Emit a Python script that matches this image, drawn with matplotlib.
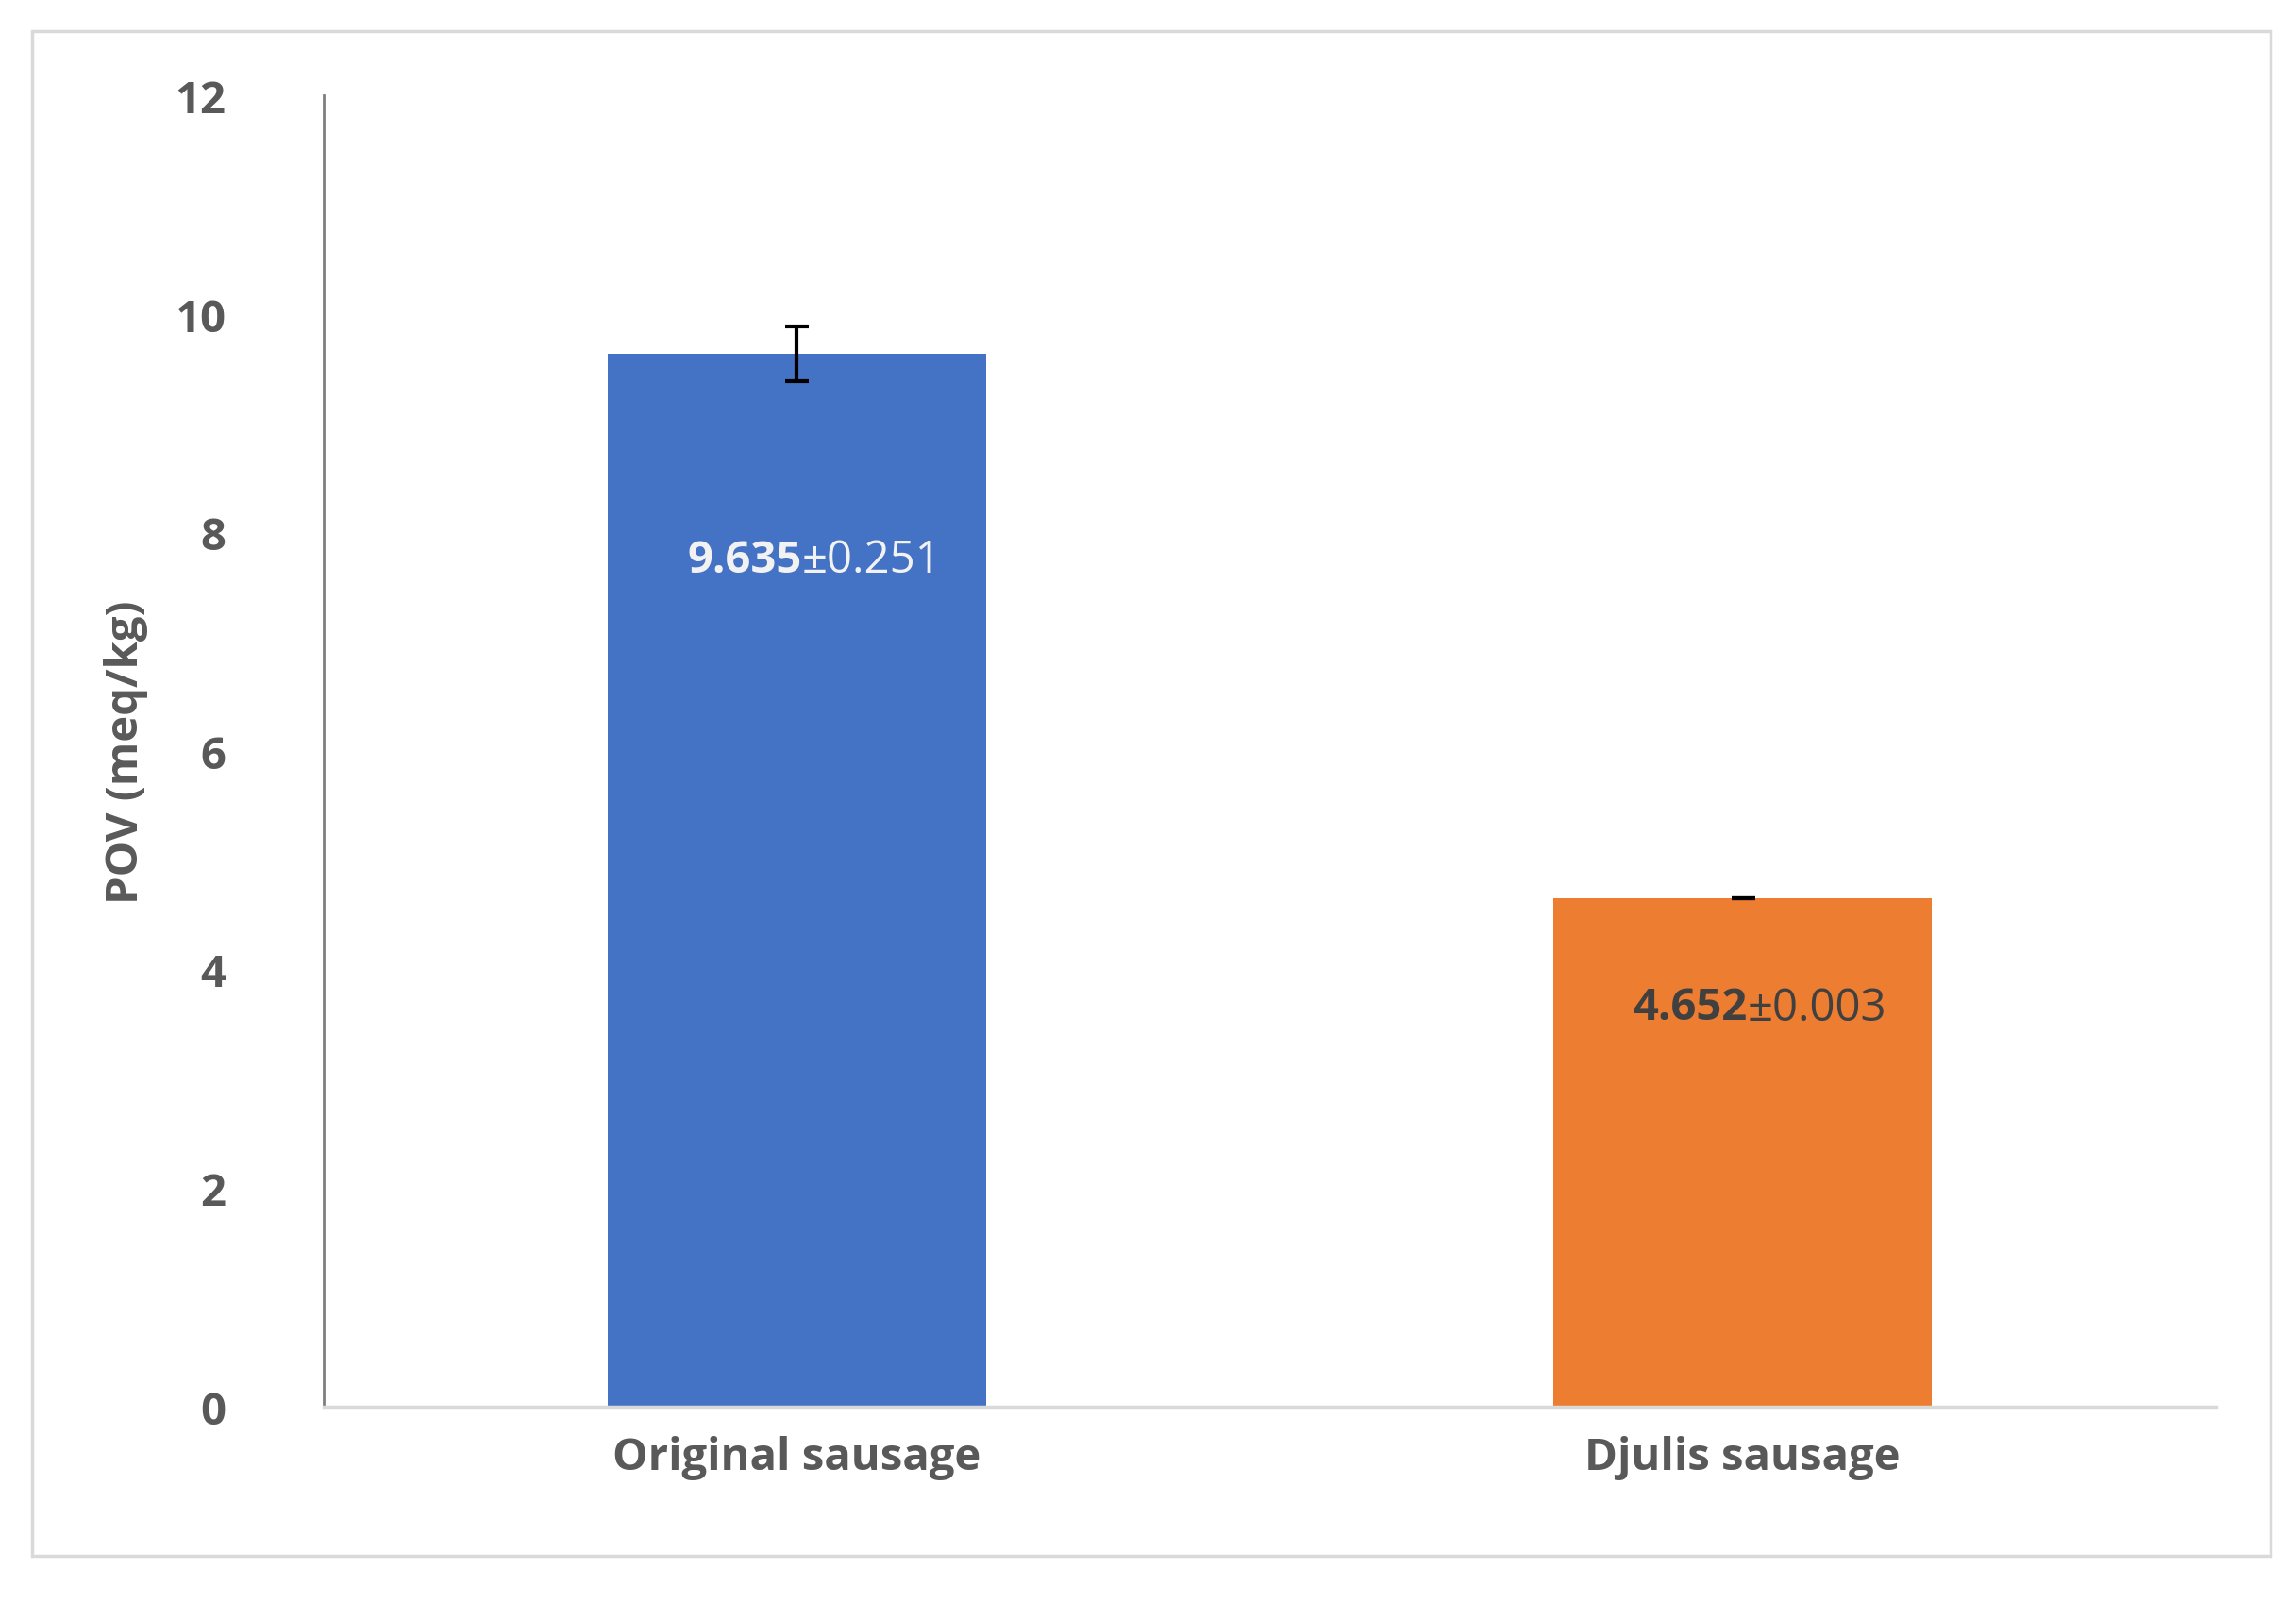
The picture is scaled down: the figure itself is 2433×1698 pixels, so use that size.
import matplotlib.pyplot as plt
from matplotlib.patches import Rectangle

categories = ["Original sausage", "Djulis sausage"]
means = [9.635, 4.652]
errors = [0.251, 0.003]
mean_labels = ["9.635", "4.652"]
err_labels = ["\u00b10.251", "\u00b10.003"]
label_y = [7.75, 3.65]
colors = ["#4472C4", "#ED7D31"]
label_colors = ["#F2F2F2", "#404040"]

plt.rcParams['font.family'] = ['Open Sans', 'DejaVu Sans']
grey = "#595959"

fig = plt.figure(figsize=(24.33, 16.99), dpi=100)
fig.patches.append(Rectangle((0.014, 0.029), 0.975, 0.951, transform=fig.transFigure,
                             fill=False, edgecolor="#D9D9D9", linewidth=2.5))
ax = fig.add_axes([0.141, 0.122, 0.824, 0.818])

x = range(len(categories))
ax.bar(x, means, width=0.4, color=colors, zorder=2)
ax.errorbar(x, means, yerr=errors, fmt='none', ecolor='black', elinewidth=3,
            capsize=9, capthick=3, zorder=3)

for i in x:
    ax.text(i + 0.005, label_y[i], mean_labels[i], ha='right', va='center',
            fontsize=34, fontweight='bold', color=label_colors[i])
    ax.text(i + 0.005, label_y[i], err_labels[i], ha='left', va='center',
            fontsize=34, color=label_colors[i])

ax.set_xlim(-0.5, 1.5)
ax.set_ylim(0, 12)
ax.set_yticks(range(0, 13, 2))
ax.set_xticks(list(x))
ax.set_xticklabels(categories)
ax.tick_params(axis='both', length=0, labelsize=34, labelcolor=grey, pad=22)
for lab in ax.get_xticklabels() + ax.get_yticklabels():
    lab.set_fontweight('bold')
ax.tick_params(axis='y', pad=75)
ax.set_ylabel("POV (meq/kg)", fontsize=34, fontweight='bold', color=grey, labelpad=20)

for s in ['top', 'right']:
    ax.spines[s].set_visible(False)
ax.spines['left'].set_color('#7F7F7F')
ax.spines['left'].set_linewidth(2)
ax.spines['bottom'].set_color('#D9D9D9')
ax.spines['bottom'].set_linewidth(2.5)

fig.savefig("out.png", dpi=100)
